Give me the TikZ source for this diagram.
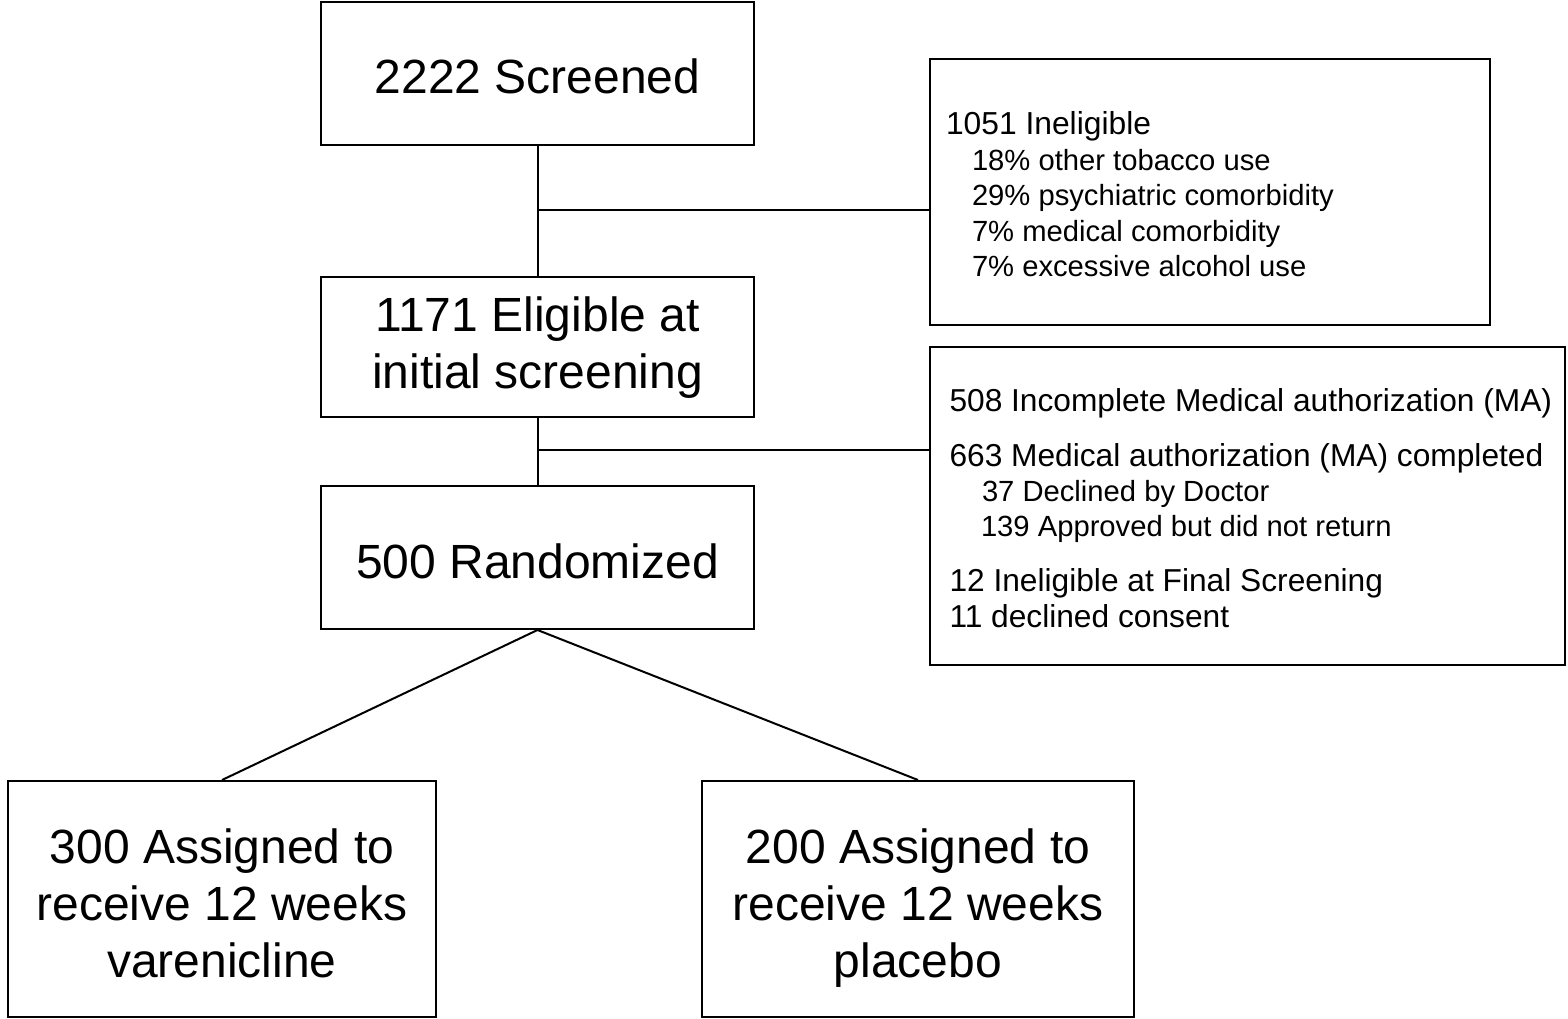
\documentclass[tikz,border=0pt]{standalone}
\usepackage{fontspec}
\setmainfont{Liberation Sans}
\newcommand{\mlines}[2]{\raisebox{0pt}[#1][0pt]{\begin{tabular}[b]{@{}c@{}}#2\end{tabular}}}
\begin{document}
\begin{tikzpicture}[x=0.5pt,y=-0.5pt,line width=1pt,
  box/.style={draw,inner sep=0pt,font=\fontsize{24}{28.5}\selectfont},
  onebox/.style={box,text height=#1,text depth=0pt},
  side/.style={draw,inner sep=0pt},
  hdI/.style={anchor=base west,inner sep=0pt,font=\fontsize{15.9}{18}\selectfont},
  subI/.style={anchor=base west,inner sep=0pt,font=\fontsize{14.6}{17}\selectfont},
  hdM/.style={anchor=base west,inner sep=0pt,font=\fontsize{15.85}{18}\selectfont},
  subM/.style={anchor=base west,inner sep=0pt,font=\fontsize{14.6}{17}\selectfont}]
\useasboundingbox (0,0) rectangle (1568,1018);
% main boxes
\node[onebox=19.8pt,minimum width=216.5pt,minimum height=71.5pt] (scr) at (537.5,73.5) {2222 Screened};
\node[box,minimum width=216.5pt,minimum height=70pt] (elig) at (537.5,347) {\mlines{41.3pt}{1171 Eligible at\\initial screening}};
\node[onebox=21pt,minimum width=216.5pt,minimum height=71.5pt] (rand) at (537.5,557.5) {500 Randomized};
\node[box,minimum width=214pt,minimum height=118pt] (var) at (222,899) {\mlines{78pt}{300 Assigned to\\receive 12 weeks\\varenicline}};
\node[box,minimum width=216pt,minimum height=118pt] (plac) at (918,899) {\mlines{78pt}{200 Assigned to\\receive 12 weeks\\placebo}};
% side boxes
\node[side,minimum width=280pt,minimum height=133pt] (inel) at (1210,192) {};
\node[side,minimum width=317.5pt,minimum height=159pt] (ma) at (1247.5,506) {};
% ineligible text
\node[hdI] (i0) at (945,134.5) {1051 Ineligible};
\node[subI] (i1) at (971,170) {18\% other tobacco use};
\node[subI] (i2) at (971,205.5) {29\% psychiatric comorbidity};
\node[subI] (i3) at (971,241) {7\% medical comorbidity};
\node[subI] (i4) at (971,276.5) {7\% excessive alcohol use};
% MA text
\node[hdM] (m0) at (948.5,411.7) {508 Incomplete Medical authorization (MA)};
\node[hdM] (m1) at (948.5,466) {663 Medical authorization (MA) completed};
\node[subM] (m2) at (981,501.7) {37 Declined by Doctor};
\node[subM] (m3) at (980,536.7) {139 Approved but did not return};
\node[hdM] (m4) at (948.5,591.5) {12 Ineligible at Final Screening};
\node[hdM] (m5) at (948.5,627.5) {11 declined consent};
% connectors
\draw (scr) -- (elig);
\draw (elig) -- (rand);
\coordinate (j1) at (537.5,210);
\coordinate (j2) at (537.5,450);
\draw (j1) -- (j1 -| inel.west);
\draw (j2) -- (j2 -| ma.west);
\draw (rand.south) -- (var.north);
\draw (rand.south) -- (plac.north);
\end{tikzpicture}
\end{document}
